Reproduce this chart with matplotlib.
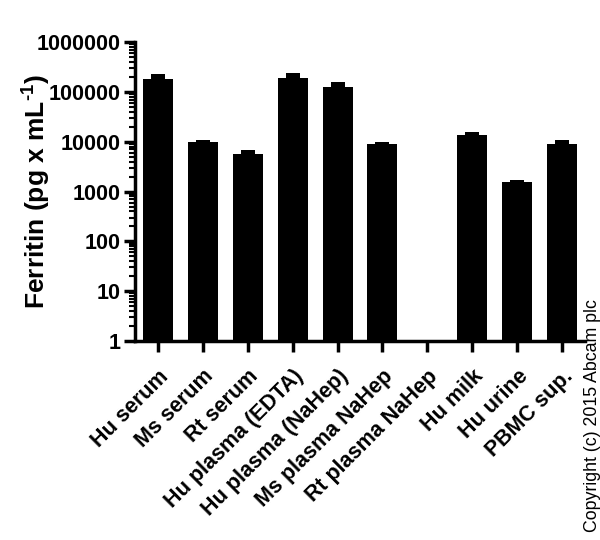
import numpy as np
import matplotlib
matplotlib.use("Agg")
import matplotlib.pyplot as plt
from matplotlib.ticker import FixedLocator, FuncFormatter, LogLocator, NullFormatter

plt.rcParams['font.family'] = ['Liberation Sans', 'DejaVu Sans']
plt.rcParams['mathtext.fontset'] = 'custom'
plt.rcParams['mathtext.rm'] = 'Liberation Sans:bold'
plt.rcParams['mathtext.bf'] = 'Liberation Sans:bold'
plt.rcParams['mathtext.default'] = 'rm'

categories = ["Hu serum", "Ms serum", "Rt serum", "Hu plasma (EDTA)", "Hu plasma (NaHep)",
              "Ms plasma NaHep", "Rt plasma NaHep", "Hu milk", "Hu urine", "PBMC sup."]
means = [182000, 9700, 5670, 193000, 128000, 8840, np.nan, 13800, 1540, 9120]
upper = [226000, 11000, 6900, 237000, 158000, 9860, np.nan, 15600, 1740, 10600]
yticks = [1, 10, 100, 1000, 10000, 100000, 1000000]

fig = plt.figure(figsize=(6.0, 5.4), dpi=100)
ax = fig.add_axes([0.225, 0.3685, 0.75, 0.5535])

x = np.arange(len(categories))
m = np.array(means, dtype=float)
u = np.array(upper, dtype=float)
ax.bar(x, m - 1, bottom=1, width=0.667, color='black', zorder=2)
ax.bar(x, u - m, bottom=m, width=0.31, color='black', zorder=2)

ax.set_yscale('log')
ax.set_ylim(1, 1e6)
ax.set_xlim(-0.51, 9.51)
ax.yaxis.set_major_locator(FixedLocator(yticks))
ax.yaxis.set_major_formatter(FuncFormatter(lambda v, p: f"{int(round(v))}"))
ax.yaxis.set_minor_locator(LogLocator(base=10, subs=np.arange(2, 10)))
ax.yaxis.set_minor_formatter(NullFormatter())

ax.set_xticks(x)
ax.set_xticklabels(categories, rotation=45, ha='right', rotation_mode='anchor',
                   fontsize=15.5, fontweight='bold')
for lab in ax.get_yticklabels():
    lab.set_fontsize(15.5)
    lab.set_fontweight('bold')

ax.spines['top'].set_visible(False)
ax.spines['right'].set_visible(False)
ax.spines['left'].set_linewidth(2.5)
ax.spines['bottom'].set_linewidth(2.5)
ax.tick_params(axis='both', which='major', length=8, width=2.5, pad=2, color='black')
ax.tick_params(axis='y', which='minor', length=4, width=1.5)
ax.tick_params(axis='x', which='major', pad=10)

ax.set_ylabel(r"Ferritin (pg x mL$^{\text{-1}}$)", fontsize=19, fontweight='bold')
ax.yaxis.set_label_coords(-0.182, 0.5)

fig.text(0.987, 0.015, "Copyright (c) 2015 Abcam plc", rotation=90, fontsize=12.8,
         ha='center', va='bottom')

fig.savefig("out.png", dpi=100)
